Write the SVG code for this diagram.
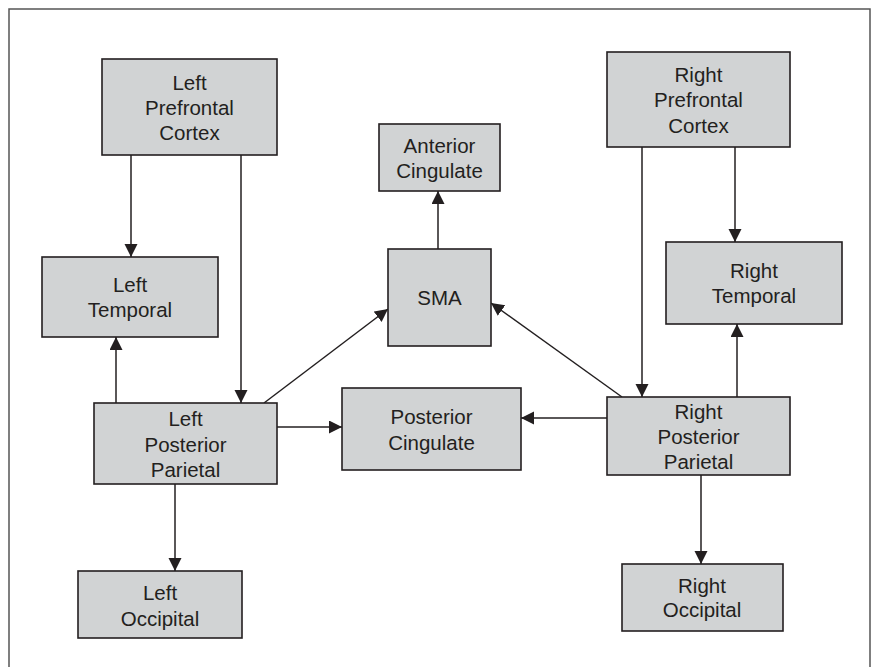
<svg xmlns="http://www.w3.org/2000/svg" width="873" height="667" viewBox="0 0 873 667">
  <style>
    .box { fill: #d1d3d4; stroke: #231f20; stroke-width: 1.6; }
    .lbl { font-family: "Liberation Sans", Arial, sans-serif; font-size: 20.5px; fill: #231f20; text-anchor: middle; }
    .con { stroke: #231f20; stroke-width: 1.5; fill: none; marker-end: url(#arr); }
  </style>
  <defs>
    <marker id="arr" markerUnits="userSpaceOnUse" markerWidth="14" markerHeight="14" refX="13" refY="6.5" orient="auto">
      <path d="M0,0 L13,6.5 L0,13 Z" fill="#231f20"/>
    </marker>
  </defs>
  <rect x="0" y="0" width="873" height="667" fill="#ffffff"/>
  <rect x="9" y="9" width="861" height="670" fill="none" stroke="#555555" stroke-width="1.5"/>

  <g id="connectors">
    <line class="con" x1="131" y1="155" x2="131" y2="257"/>
    <line class="con" x1="241" y1="155" x2="241" y2="403"/>
    <line class="con" x1="116" y1="403" x2="116" y2="337"/>
    <line class="con" x1="264" y1="403" x2="388" y2="309"/>
    <line class="con" x1="277" y1="427" x2="342" y2="427"/>
    <line class="con" x1="175" y1="484" x2="175" y2="571"/>
    <line class="con" x1="438" y1="249" x2="438" y2="191"/>
    <line class="con" x1="622" y1="397" x2="491" y2="303"/>
    <line class="con" x1="642" y1="147" x2="642" y2="397"/>
    <line class="con" x1="735" y1="147" x2="735" y2="242"/>
    <line class="con" x1="737" y1="397" x2="737" y2="324"/>
    <line class="con" x1="607" y1="418" x2="521" y2="418"/>
    <line class="con" x1="701" y1="475" x2="701" y2="564"/>
  </g>

  <g id="left-prefrontal">
    <rect class="box" x="102" y="59" width="175" height="96"/>
    <text class="lbl" x="189.5" y="90">Left</text>
    <text class="lbl" x="189.5" y="115">Prefrontal</text>
    <text class="lbl" x="189.5" y="140">Cortex</text>
  </g>
  <g id="left-temporal">
    <rect class="box" x="42" y="257" width="176" height="80"/>
    <text class="lbl" x="130" y="292">Left</text>
    <text class="lbl" x="130" y="317">Temporal</text>
  </g>
  <g id="left-posterior-parietal">
    <rect class="box" x="94" y="403" width="183" height="81"/>
    <text class="lbl" x="185.5" y="426">Left</text>
    <text class="lbl" x="185.5" y="452">Posterior</text>
    <text class="lbl" x="185.5" y="477">Parietal</text>
  </g>
  <g id="left-occipital">
    <rect class="box" x="78" y="571" width="164" height="67"/>
    <text class="lbl" x="160" y="600">Left</text>
    <text class="lbl" x="160" y="626">Occipital</text>
  </g>
  <g id="anterior-cingulate">
    <rect class="box" x="379" y="124" width="121" height="67"/>
    <text class="lbl" x="439.5" y="153">Anterior</text>
    <text class="lbl" x="439.5" y="178">Cingulate</text>
  </g>
  <g id="sma">
    <rect class="box" x="388" y="249" width="103" height="97"/>
    <text class="lbl" x="439.5" y="305">SMA</text>
  </g>
  <g id="posterior-cingulate">
    <rect class="box" x="342" y="388" width="179" height="82"/>
    <text class="lbl" x="431.5" y="424">Posterior</text>
    <text class="lbl" x="431.5" y="450">Cingulate</text>
  </g>
  <g id="right-prefrontal">
    <rect class="box" x="607" y="52" width="183" height="95"/>
    <text class="lbl" x="698.5" y="82">Right</text>
    <text class="lbl" x="698.5" y="107">Prefrontal</text>
    <text class="lbl" x="698.5" y="133">Cortex</text>
  </g>
  <g id="right-temporal">
    <rect class="box" x="666" y="242" width="176" height="82"/>
    <text class="lbl" x="754" y="278">Right</text>
    <text class="lbl" x="754" y="303">Temporal</text>
  </g>
  <g id="right-posterior-parietal">
    <rect class="box" x="607" y="397" width="183" height="78"/>
    <text class="lbl" x="698.5" y="419">Right</text>
    <text class="lbl" x="698.5" y="444">Posterior</text>
    <text class="lbl" x="698.5" y="469">Parietal</text>
  </g>
  <g id="right-occipital">
    <rect class="box" x="622" y="564" width="161" height="67"/>
    <text class="lbl" x="702" y="593">Right</text>
    <text class="lbl" x="702" y="617">Occipital</text>
  </g>
</svg>
